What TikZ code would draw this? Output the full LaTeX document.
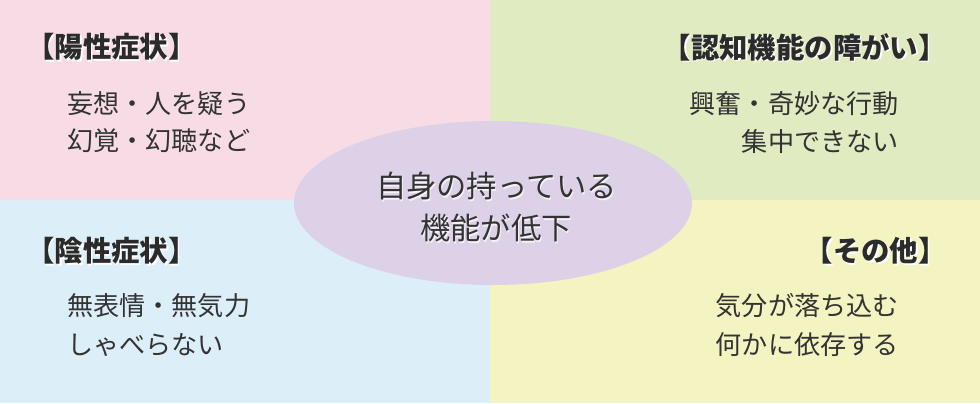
\documentclass[tikz,border=0pt]{standalone}
\usepackage{fontspec}
\newfontfamily\jp{Noto Sans CJK JP}
\usetikzlibrary{shapes.geometric}
\definecolor{qpink}{HTML}{F7DCE6}
\definecolor{qgreen}{HTML}{E0EBC2}
\definecolor{qblue}{HTML}{DCEEF8}
\definecolor{qyellow}{HTML}{F4F3C2}
\definecolor{qlav}{HTML}{DCD1E7}
\definecolor{txt}{HTML}{333333}
\tikzset{
  body/.style={inner sep=0pt, text=txt, font=\jp\fontsize{19.6}{24}\selectfont},
  ttl/.style={inner sep=0pt, text=txt!85!black, font=\jp\bfseries\fontsize{21.3}{25}\selectfont},
  ttlshadow/.style={inner sep=0pt, text=white, font=\jp\bfseries\fontsize{21.3}{25}\selectfont},
  ctr/.style={inner sep=0pt, text=txt, font=\jp\fontsize{22.7}{27}\selectfont},
  ctrshadow/.style={inner sep=0pt, text=white!70!qlav, font=\jp\fontsize{22.7}{27}\selectfont},
}
\begin{document}
\begin{tikzpicture}[x=0.75pt,y=-0.75pt]
\useasboundingbox (0,0) rectangle (980,403);
\fill[qpink] (0,0) rectangle (490,200);
\fill[qgreen] (490,0) rectangle (980,200);
\fill[qblue] (0,200) rectangle (490,403);
\fill[qyellow] (490,200) rectangle (980,403);
\node[ellipse, fill=qlav, minimum width=298.5pt, minimum height=123pt, inner sep=0pt] (core) at (493,203) {};
% titles with shadows
\node[ttlshadow, anchor=west] at (27.5,48.5) {【陽性症状】};
\node[ttl, anchor=west] (pos) at (26,47) {【陽性症状】};
\node[ttlshadow, anchor=west] at (27.5,252.5) {【陰性症状】};
\node[ttl, anchor=west] (neg) at (26,251) {【陰性症状】};
\node[ttlshadow, anchor=east] at (948.5,48.5) {【認知機能の障がい】};
\node[ttl, anchor=east] (cog) at (947,47) {【認知機能の障がい】};
\node[ttlshadow, anchor=east] at (948.5,252.5) {【その他】};
\node[ttl, anchor=east] (oth) at (947,251) {【その他】};
% bodies
\node[body, anchor=west] (p1) at (67,104) {妄想・人を疑う};
\node[body, anchor=west] (p2) at (67,141) {幻覚・幻聴など};
\node[body, anchor=west] (n1) at (67,306) {無表情・無気力};
\node[body, anchor=west] (n2) at (67,345) {しゃべらない};
\node[body, anchor=east] (c1) at (899,104) {興奮・奇妙な行動};
\node[body, anchor=east] (c2) at (899,142) {集中できない};
\node[body, anchor=east] (o1) at (899,306) {気分が落ち込む};
\node[body, anchor=east] (o2) at (899,345) {何かに依存する};
% center
\node[ctrshadow] at (497.5,187.5) {自身の持っている};
\node[ctr] (m1) at (496.5,186) {自身の持っている};
\node[ctrshadow] at (497,229.5) {機能が低下};
\node[ctr] (m2) at (496,228) {機能が低下};
\end{tikzpicture}
\end{document}
